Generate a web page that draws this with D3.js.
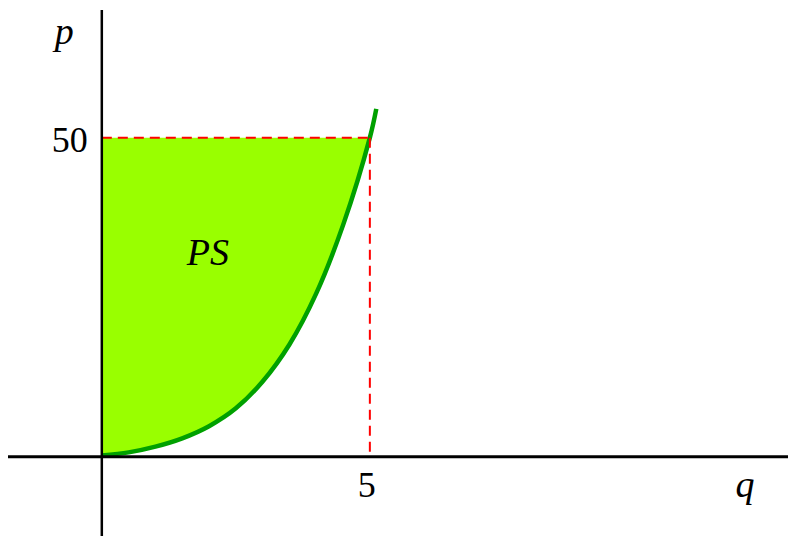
<!DOCTYPE html>
<html>
<head>
<meta charset="utf-8">
<script src="https://cdn.jsdelivr.net/npm/d3@7"></script>
<style>
  html, body { margin: 0; padding: 0; background: #ffffff; }
  svg { display: block; }
  text { font-family: "Liberation Serif", "Times New Roman", serif; fill: #000; }
</style>
</head>
<body>
<svg id="chart" width="788" height="536"></svg>
<script>
// Supply curve: quantity q and price p
const supplyQ = [0, 0.5, 1, 1.5, 2, 2.5, 3, 3.5, 4, 4.5, 5, 5.12];
const supplyP = [0.2, 0.7, 1.6, 2.9, 4.8, 7.6, 11.8, 17.6, 25.6, 36.3, 50, 54.5];

// Market equilibrium
const eqQ = 5;
const eqP = 50;

// Tick labels and axis names
const xTicks = [5];
const yTicks = [50];
const xName = "q";
const yName = "p";
const areaLabel = "PS";

const svg = d3.select("#chart");

const x = d3.scaleLinear().domain([-1.75, 12.8]).range([8, 788]);
const y = d3.scaleLinear().domain([-12.4, 70]).range([536, 10]);

const pts = supplyQ.map((q, i) => ({ q, p: supplyP[i] }));
const ptsToEq = pts.filter(d => d.q <= eqQ);

// Producer surplus region: between the price line and the supply curve
const area = d3.area()
  .x(d => x(d.q))
  .y0(y(eqP))
  .y1(d => y(d.p))
  .curve(d3.curveCatmullRom);

svg.append("path")
  .datum(ptsToEq)
  .attr("d", area)
  .attr("fill", "#99ff00");

// Supply curve
const line = d3.line()
  .x(d => x(d.q))
  .y(d => y(d.p))
  .curve(d3.curveCatmullRom);

svg.append("path")
  .datum(pts)
  .attr("d", line)
  .attr("fill", "none")
  .attr("stroke", "#00a000")
  .attr("stroke-width", 4.5);

// Guide lines to the equilibrium point
svg.append("line")
  .attr("x1", x(0)).attr("x2", x(eqQ))
  .attr("y1", y(eqP)).attr("y2", y(eqP))
  .attr("stroke", "#ff0000").attr("stroke-width", 2)
  .attr("stroke-dasharray", "10,6");

svg.append("line")
  .attr("x1", x(eqQ)).attr("x2", x(eqQ))
  .attr("y1", y(eqP)).attr("y2", y(0))
  .attr("stroke", "#ff0000").attr("stroke-width", 2)
  .attr("stroke-dasharray", "10,6");

// Axes
svg.append("line")
  .attr("x1", x.range()[0]).attr("x2", x.range()[1])
  .attr("y1", y(0)).attr("y2", y(0))
  .attr("stroke", "#000").attr("stroke-width", 3);

svg.append("line")
  .attr("x1", x(0)).attr("x2", x(0))
  .attr("y1", y.range()[1]).attr("y2", y.range()[0])
  .attr("stroke", "#000").attr("stroke-width", 2.5);

// Tick labels
svg.selectAll(".xtick")
  .data(xTicks)
  .join("text")
  .attr("class", "xtick")
  .attr("x", d => x(d) - 3)
  .attr("y", y(0) + 40)
  .attr("text-anchor", "middle")
  .attr("font-size", 36)
  .text(d => d);

svg.selectAll(".ytick")
  .data(yTicks)
  .join("text")
  .attr("class", "ytick")
  .attr("x", x(0) - 14)
  .attr("y", d => y(d) + 14)
  .attr("text-anchor", "end")
  .attr("font-size", 36)
  .text(d => d);

// Axis names
svg.append("text")
  .attr("x", x(12.0))
  .attr("y", y(0) + 40)
  .attr("text-anchor", "middle")
  .attr("font-size", 38)
  .attr("font-style", "italic")
  .text(xName);

svg.append("text")
  .attr("x", x(-0.7))
  .attr("y", 44)
  .attr("text-anchor", "middle")
  .attr("font-size", 38)
  .attr("font-style", "italic")
  .text(yName);

// Region label
svg.append("text")
  .attr("x", x(1.98))
  .attr("y", 265)
  .attr("text-anchor", "middle")
  .attr("font-size", 38)
  .attr("font-style", "italic")
  .text(areaLabel);
</script>
</body>
</html>
